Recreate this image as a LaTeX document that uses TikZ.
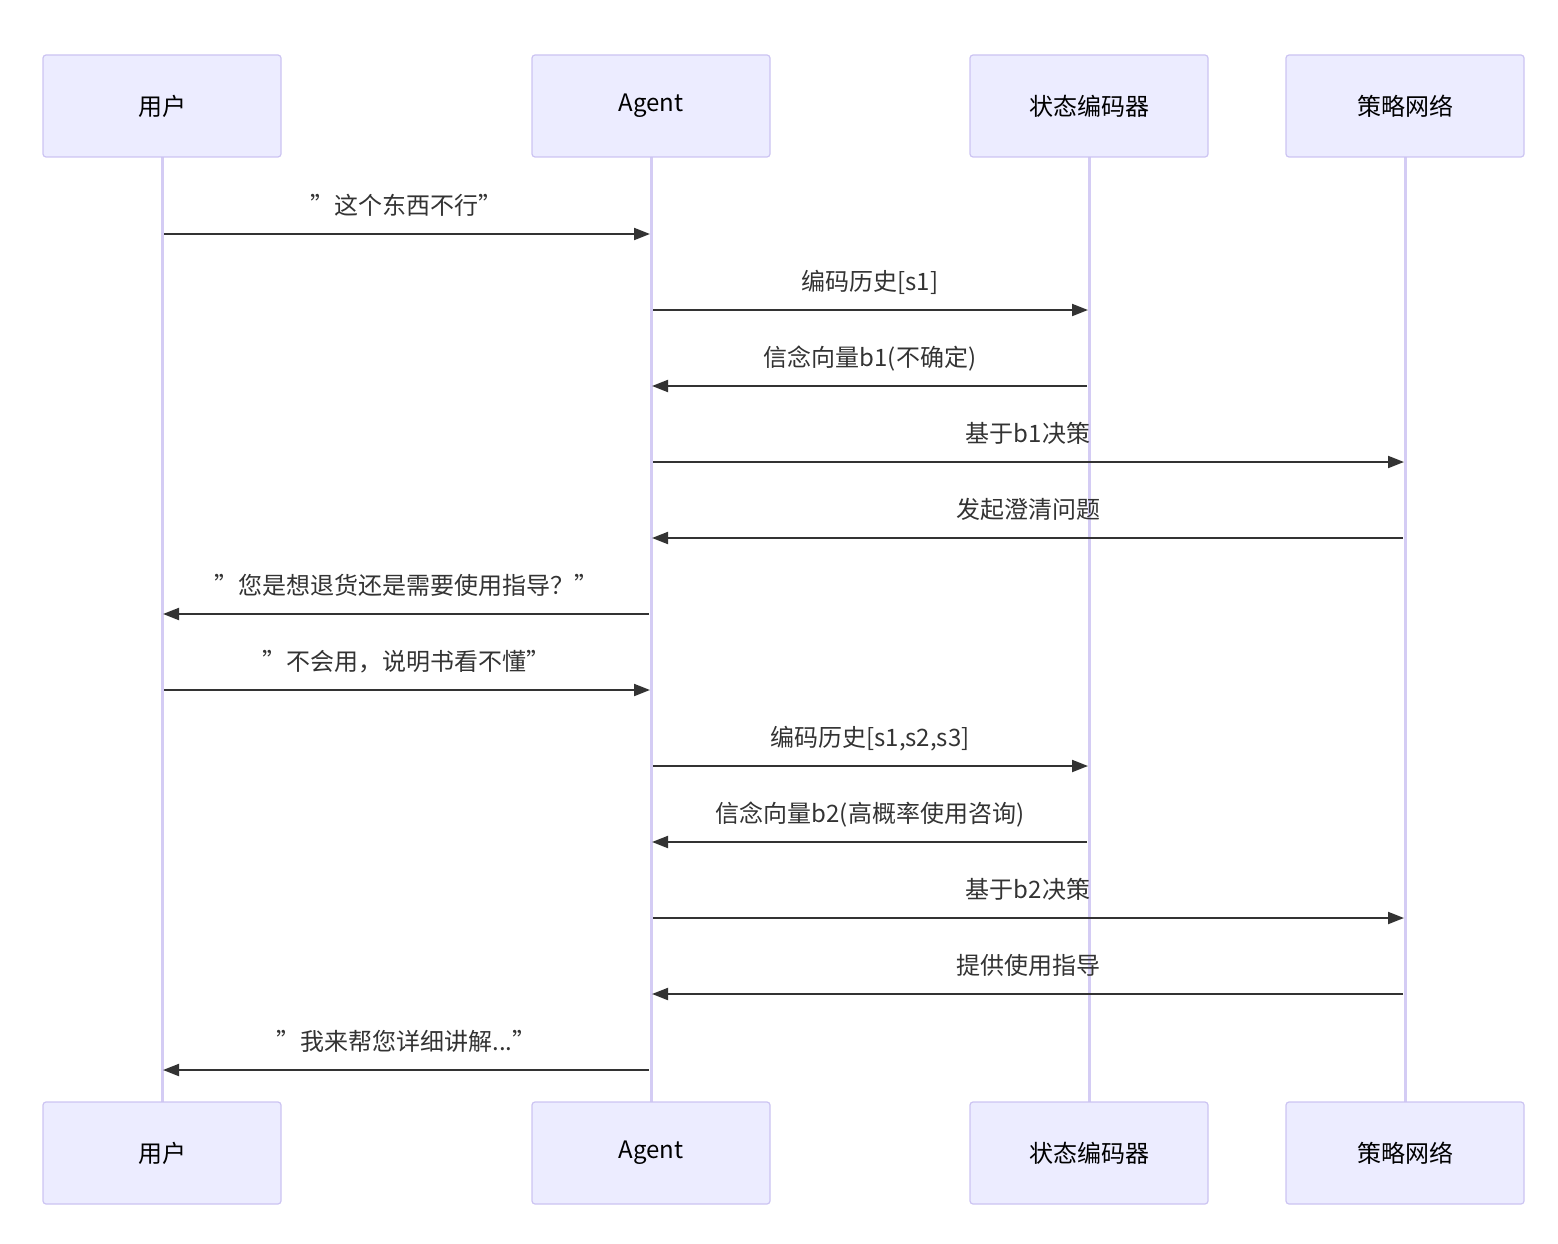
\documentclass[tikz,border=0pt]{standalone}
\usepackage{fontspec}
\setmainfont{Noto Sans CJK SC}
\usetikzlibrary{arrows.meta,calc}
\definecolor{boxfill}{HTML}{ECECFF}
\definecolor{boxline}{HTML}{CCC4F2}
\definecolor{lifeline}{HTML}{D4CCF4}
\definecolor{msg}{HTML}{333333}
\begin{document}
\begin{tikzpicture}[x=1pt,y=-1pt,
  actor/.style={draw=boxline,line width=1.2pt,fill=boxfill,rounded corners=3pt,minimum width=238pt,minimum height=102pt,font=\fontsize{24}{28}\selectfont,text=black},
  life/.style={draw=lifeline,line width=3pt},
  m/.style={draw=msg,line width=2pt,shorten <=2pt,shorten >=1pt,-{Triangle[length=16pt,width=12pt]}},
  lab/.style={font=\fontsize{24}{28}\selectfont,text=msg,anchor=base}]
\useasboundingbox (0,0) rectangle (1558,1244);
\foreach \n/\x/\t in {u/162/用户,a/651/Agent,s/1089/状态编码器,p/1405/策略网络}{
  \draw[life] (\x,157) -- (\x,1102);
  \node[actor] (\n top) at (\x,106) {\t};
  \node[actor] (\n bot) at (\x,1153) {\t};
  \foreach \y in {234,310,386,462,538,614,690,766,842,918,994,1070}
    \coordinate (\n\y) at (\x,\y);
}
\def\M#1#2#3#4{%
  \draw[m] (#1#3) -- (#2#3);
  \node[lab] at ($(#1#3)!0.5!(#2#3)+(0,-20)$) {#4};}
\M{u}{a}{234}{"这个东西不行"}
\M{a}{s}{310}{编码历史[s1]}
\M{s}{a}{386}{信念向量b1(不确定)}
\M{a}{p}{462}{基于b1决策}
\M{p}{a}{538}{发起澄清问题}
\M{a}{u}{614}{"您是想退货还是需要使用指导？"}
\M{u}{a}{690}{"不会用，说明书看不懂"}
\M{a}{s}{766}{编码历史[s1,s2,s3]}
\M{s}{a}{842}{信念向量b2(高概率使用咨询)}
\M{a}{p}{918}{基于b2决策}
\M{p}{a}{994}{提供使用指导}
\M{a}{u}{1070}{"我来帮您详细讲解..."}
\end{tikzpicture}
\end{document}
